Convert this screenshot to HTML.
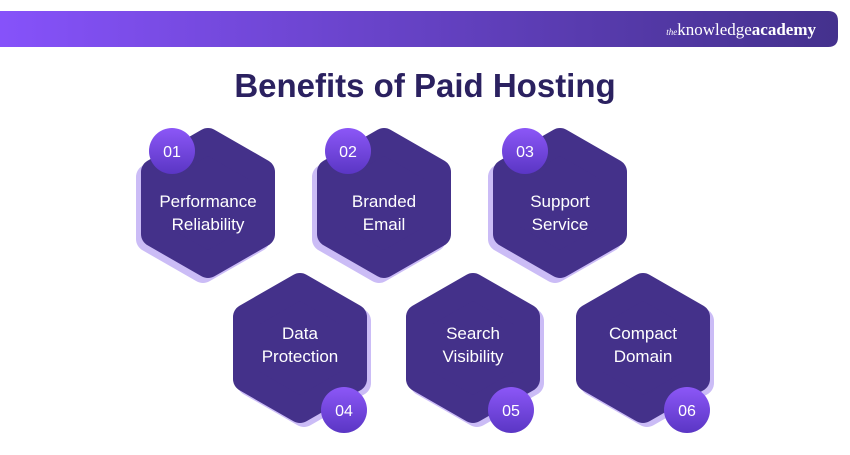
<!DOCTYPE html>
<html><head><meta charset="utf-8"><style>
body{margin:0;width:850px;height:450px;background:#fff;overflow:hidden;font-family:"Liberation Sans",sans-serif}
</style></head><body>
<svg width="850" height="450" xmlns="http://www.w3.org/2000/svg">
<defs>
<linearGradient id="bn" x1="0" x2="1"><stop offset="0" stop-color="#8652fa"/><stop offset="1" stop-color="#44318d"/></linearGradient>
<linearGradient id="ci" x1="0" y1="0" x2="0" y2="1"><stop offset="0" stop-color="#8c57f7"/><stop offset="1" stop-color="#5a36c4"/></linearGradient>
<g id="hx"><polygon points="0,-62 54,-31 54,31 0,62 -54,31 -54,-31" stroke-linejoin="round" stroke-width="26"/></g>
</defs>
<path d="M0 11 H828 Q838 11 838 21 V37 Q838 47 828 47 H0 Z" fill="url(#bn)"/>
<text x="816" y="35" text-anchor="end" fill="#fff" font-family="Liberation Serif,serif" font-size="17"><tspan font-size="9" font-style="italic">the</tspan>knowledge<tspan font-weight="bold">academy</tspan></text>
<text x="425" y="97" text-anchor="middle" fill="#2b2160" font-size="33" font-weight="bold">Benefits of Paid Hosting</text>
<g fill="#cbbcf6" stroke="#cbbcf6">
<use href="#hx" x="203" y="208"/><use href="#hx" x="379" y="208"/><use href="#hx" x="555" y="208"/>
<use href="#hx" x="304" y="352"/><use href="#hx" x="477" y="352"/><use href="#hx" x="647" y="352"/>
</g>
<g fill="#44318a" stroke="#44318a">
<use href="#hx" x="208" y="203"/><use href="#hx" x="384" y="203"/><use href="#hx" x="560" y="203"/>
<use href="#hx" x="300" y="348"/><use href="#hx" x="473" y="348"/><use href="#hx" x="643" y="348"/>
</g>
<g fill="url(#ci)">
<circle cx="172" cy="151" r="23"/><circle cx="348" cy="151" r="23"/><circle cx="525" cy="151" r="23"/>
<circle cx="344" cy="410" r="23"/><circle cx="511" cy="410" r="23"/><circle cx="687" cy="410" r="23"/>
</g>
<g fill="#fff" font-size="16" text-anchor="middle">
<text x="172" y="157">01</text><text x="348" y="157">02</text><text x="525" y="157">03</text>
<text x="344" y="416">04</text><text x="511" y="416">05</text><text x="687" y="416">06</text>
</g>
<g fill="#fff" font-size="17" text-anchor="middle">
<text x="208" y="207">Performance</text><text x="208" y="230">Reliability</text>
<text x="384" y="207">Branded</text><text x="384" y="230">Email</text>
<text x="560" y="207">Support</text><text x="560" y="230">Service</text>
<text x="300" y="339">Data</text><text x="300" y="362">Protection</text>
<text x="473" y="339">Search</text><text x="473" y="362">Visibility</text>
<text x="643" y="339">Compact</text><text x="643" y="362">Domain</text>
</g>
</svg>
</body></html>
